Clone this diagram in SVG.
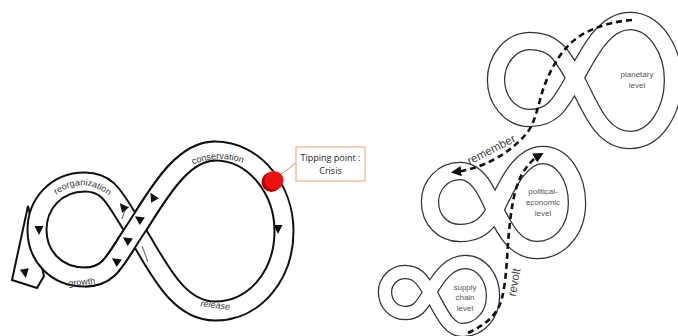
<svg xmlns="http://www.w3.org/2000/svg" width="678" height="336" viewBox="0 0 678 336">
<style>
.bk{fill:none;stroke:#111;stroke-width:21}
.wh{fill:none;stroke:#fff;stroke-width:17}
.bk2{fill:none;stroke:#333;stroke-width:18.5}
.wh2{fill:none;stroke:#fff;stroke-width:16}
.bk3{fill:none;stroke:#333;stroke-width:14.5}
.wh3{fill:none;stroke:#fff;stroke-width:12}
.lbl{font-family:"Liberation Sans",Arial,sans-serif;font-size:9px;fill:#333}
.lvl{font-family:"Liberation Sans",Arial,sans-serif;font-size:8px;fill:#555;text-anchor:middle}
.big{font-family:"Liberation Sans",Arial,sans-serif;font-size:11.5px;fill:#444;text-anchor:middle}
.call{font-family:"Open Sans","Liberation Sans",sans-serif;font-size:9px;fill:#222;text-anchor:middle}
.dash{fill:none;stroke:#111;stroke-width:2.6;stroke-dasharray:6 4}
.tri{fill:#111}
</style>
<defs>
<path id="tri" d="M5,0 L-4,-4.5 L-4,4.5 Z"/>
<marker id="ah" viewBox="0 0 10 10" refX="6" refY="5" markerWidth="4" markerHeight="4" orient="auto" markerUnits="strokeWidth">
<path d="M0,0 L10,5 L0,10 Z" fill="#111"/>
</marker>
<path id="arcReorg" d="M50,200 Q82,170 115,201"/>
<path id="arcCons" d="M186,168 Q218,151 250,166"/>
</defs>

<g id="adaptive-cycle">
<path d="M28,206 L12,280 L37,288 L44,276 Z" fill="#fff" stroke="#111" stroke-width="2" stroke-linejoin="miter"/>
<path class="bk" d="M135,230 C155,200 180,151 215,151 C255,151 284,190 284,231 C284,275 255,311 215,311 C175,311 155,260 135,230 C115,200 110,182 85,182 C55,182 37,205 37,230 C37,255 55,277 85,277 C110,277 115,260 135,230 Z"/>
<path class="wh" d="M135,230 C155,200 180,151 215,151 C255,151 284,190 284,231 C284,275 255,311 215,311 C175,311 155,260 135,230 C115,200 110,182 85,182 C55,182 37,205 37,230 C37,255 55,277 85,277 C110,277 115,260 135,230 Z"/>
<path class="bk" d="M85,277 C110,277 115,260 135,230 C155,200 180,151 215,151"/>
<path class="wh" d="M85,277 C110,277 115,260 135,230 C155,200 180,151 215,151"/>
<line x1="142" y1="246" x2="148" y2="262" stroke="#777" stroke-width="1.2"/>
<line x1="125" y1="210" x2="122" y2="219" stroke="#777" stroke-width="1.2"/>
<use href="#tri" class="tri" transform="translate(39,230) rotate(90)"/>
<use href="#tri" class="tri" transform="translate(25,273) rotate(80)"/>
<use href="#tri" class="tri" transform="translate(278,229) rotate(90)"/>
<use href="#tri" class="tri" transform="translate(153,197) rotate(-120)"/>
<use href="#tri" class="tri" transform="translate(139,219) rotate(-145)"/>
<use href="#tri" class="tri" transform="translate(127,240) rotate(-145)"/>
<use href="#tri" class="tri" transform="translate(116,261) rotate(-145)"/>
<use href="#tri" class="tri" transform="translate(123,207) rotate(-130)"/>
<text class="lbl"><textPath href="#arcReorg" startOffset="50%" text-anchor="middle">reorganization</textPath></text>
<text class="lbl"><textPath href="#arcCons" startOffset="50%" text-anchor="middle">conservation</textPath></text>
<text class="lbl" text-anchor="middle" transform="translate(82,285) rotate(-5)">growth</text>
<text class="lbl" text-anchor="middle" font-style="italic" transform="translate(215,308) rotate(7)">release</text>
</g>

<g id="tipping-point">
<line x1="280" y1="175" x2="296" y2="163" stroke="#e88a50" stroke-width="1"/>
<circle cx="271.5" cy="182" r="10" fill="#b00000"/>
<circle cx="274" cy="180.5" r="9.5" fill="#ee1111"/>
<rect x="296" y="147" width="69" height="34" fill="#fff" stroke="#f0a070" stroke-width="1"/>
<text class="call" x="330.5" y="161">Tipping point :</text>
<text class="call" x="330.5" y="174">Crisis</text>
</g>

<g id="planetary-level">
<path class="bk2" d="M575,78 C590,50 605,21 630,21 C655,21 673,50 673,80 C673,112 655,140 630,140 C600,140 590,105 575,78 C562,55 555,41 530,41 C510,41 496,60 496,80 C496,100 510,118 530,118 C555,118 562,100 575,78 Z"/>
<path class="wh2" d="M575,78 C590,50 605,21 630,21 C655,21 673,50 673,80 C673,112 655,140 630,140 C600,140 590,105 575,78 C562,55 555,41 530,41 C510,41 496,60 496,80 C496,100 510,118 530,118 C555,118 562,100 575,78 Z"/>
<text class="lvl" x="637" y="77">planetary</text>
<text class="lvl" x="637" y="88">level</text>
</g>

<g id="political-economic-level">
<path class="bk2" d="M495,210 C507,185 520,155 543,155 C563,155 577,178 577,203 C577,230 560,250 537,250 C515,250 505,230 495,210 C487,192 478,171 460,171 C443,171 430,185 430,202 C430,220 443,233 460,233 C478,233 487,225 495,210 Z"/>
<path class="wh2" d="M495,210 C507,185 520,155 543,155 C563,155 577,178 577,203 C577,230 560,250 537,250 C515,250 505,230 495,210 C487,192 478,171 460,171 C443,171 430,185 430,202 C430,220 443,233 460,233 C478,233 487,225 495,210 Z"/>
<text class="lvl" x="543" y="194">political-</text>
<text class="lvl" x="543" y="205">economic</text>
<text class="lvl" x="543" y="216">level</text>
</g>

<g id="supply-chain-level">
<path class="bk3" d="M430,292 C440,275 450,262 465,262 C482,262 493,278 493,296 C493,315 480,330 462,330 C448,330 440,310 430,292 C422,280 418,272 405,272 C393,272 385,282 385,292 C385,303 393,313 405,313 C418,313 422,305 430,292 Z"/>
<path class="wh3" d="M430,292 C440,275 450,262 465,262 C482,262 493,278 493,296 C493,315 480,330 462,330 C448,330 440,310 430,292 C422,280 418,272 405,272 C393,272 385,282 385,292 C385,303 393,313 405,313 C418,313 422,305 430,292 Z"/>
<text class="lvl" x="465" y="290">supply</text>
<text class="lvl" x="465" y="300">chain</text>
<text class="lvl" x="465" y="311">level</text>
</g>

<g id="connectors">
<path class="dash" marker-end="url(#ah)" d="M632,20 C605,22 580,32 567,47 C555,60 545,80 540,100 C536,115 533,125 527,133 C510,153 485,168 455,172"/>
<path class="dash" marker-end="url(#ah)" d="M468,333 C485,325 498,315 502,298 C507,278 507,250 509,232 C511,210 514,190 521,176 C527,165 533,159 540,155"/>
<text class="big" transform="translate(493,153) rotate(-27)">remember</text>
<text class="big" transform="translate(518,283) rotate(-80)">revolt</text>
</g>
</svg>
